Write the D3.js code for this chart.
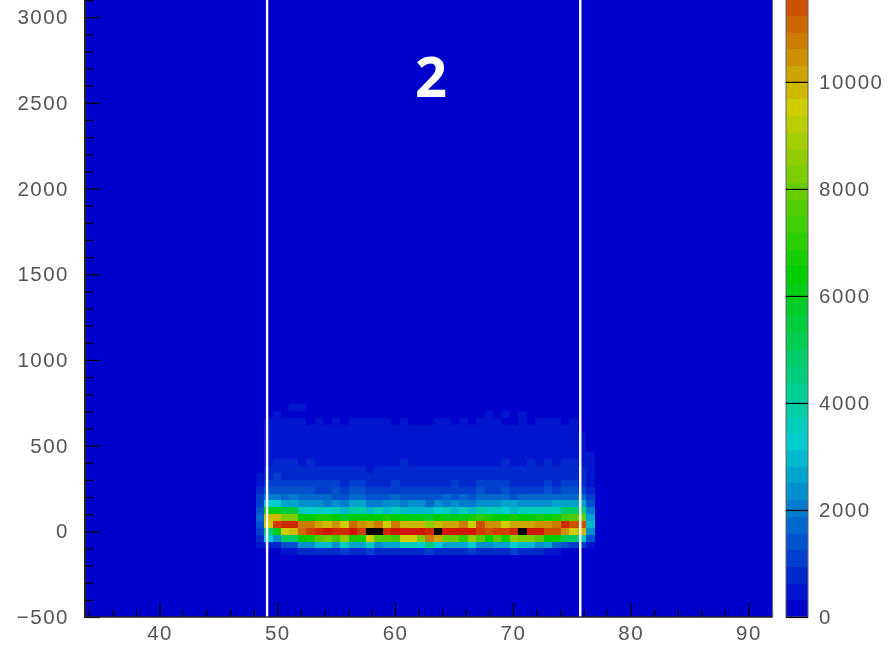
<!DOCTYPE html>
<html>
<head>
<meta charset="utf-8">
<script src="https://cdn.jsdelivr.net/npm/d3@7"></script>
<style>
  html, body { margin: 0; padding: 0; background: #fff; }
  svg { display: block; filter: blur(0.6px); }
  .tick text { font-family: "Liberation Sans", sans-serif; font-size: 20.5px; letter-spacing: 1.5px; fill: #555; }
  .tick line { stroke: #000; stroke-width: 1.2; }
</style>
</head>
<body>
<svg id="chart" width="891" height="651"></svg>
<script>
// Bin layout
const xBinStart = 48.15;
const xBinWidth = 0.72;
const yBinHalf = 20;
const yBinWidth = 40;
const zLevelWidth = 312;
const zOverflow = 12480;

// Row centres, top to bottom
const yCentres = [720, 680, 640, 600, 560, 520, 480, 440, 400, 360, 320, 280, 240, 200, 160, 120, 80, 40, 0, -40, -80, -120];

// Counts per x bin for every row (40 bins)
const row720 = [0,0,0,0,470,470,0,0,0,0,0,0,0,0,0,0,0,0,0,0,0,0,0,0,0,0,0,0,0,0,0,0,0,0,0,0,0,0,0,0];
const row680 = [0,0,470,0,0,0,0,0,0,0,0,0,0,0,0,0,0,0,0,0,0,0,0,0,0,0,0,470,0,470,0,470,0,0,0,0,0,0,0,0];
const row640 = [0,470,470,470,470,470,0,470,0,470,0,470,470,470,470,470,0,470,0,0,0,470,470,0,470,0,470,470,470,0,0,470,0,470,470,470,0,470,0,0];
const row600 = [0,470,470,470,470,470,470,470,470,470,470,470,470,470,470,470,470,470,470,470,470,470,470,470,470,470,470,470,470,470,470,470,470,470,470,470,470,470,0,0];
const row560 = [0,470,470,470,470,470,470,470,470,470,470,470,470,470,470,470,470,470,470,470,470,470,470,470,470,470,470,470,470,470,470,470,470,470,470,470,470,470,470,0];
const row520 = [0,470,470,470,470,470,470,470,470,470,470,470,470,470,470,470,470,470,470,470,470,470,470,470,470,470,470,470,470,470,470,470,470,470,470,470,470,470,470,0];
const row480 = [0,470,470,470,470,470,470,470,470,470,470,470,470,470,470,470,470,470,470,470,470,470,470,470,470,470,470,470,470,470,470,470,470,470,470,470,470,470,470,0];
const row440 = [0,470,470,470,470,470,470,470,470,470,470,470,470,470,470,470,470,470,470,470,470,470,470,470,470,470,470,470,470,470,470,470,470,470,470,470,470,470,470,470];
const row400 = [0,470,780,780,780,470,780,470,470,470,470,470,470,470,470,470,470,780,470,470,470,470,470,470,470,470,470,470,470,780,470,470,780,470,780,470,780,780,470,470];
const row360 = [0,780,780,780,780,780,780,780,780,780,780,780,780,470,780,780,780,780,780,780,780,780,780,780,780,780,780,780,780,780,780,780,780,780,780,780,780,780,780,470];
const row320 = [470,780,1090,780,780,780,780,780,780,780,780,780,780,780,780,780,780,780,780,780,780,780,780,780,780,780,780,780,780,780,780,780,780,780,780,780,780,780,780,470];
const row280 = [470,1090,1090,1090,1090,1090,1090,1090,1090,1090,780,1090,1090,780,780,780,1090,780,780,780,780,780,780,1090,780,780,1090,1090,1090,1090,780,780,780,780,1090,780,1090,1090,780,470];
const row240 = [780,1400,1400,1400,1400,1400,1400,1090,1090,1400,1090,1400,1400,1090,1090,1090,1090,1090,1090,1090,1090,1090,1090,1090,1090,1090,1400,1090,1090,1400,1090,1090,1090,1090,1400,1090,1400,1400,1090,780];
const row200 = [1090,2020,2020,1710,2020,1710,1710,1710,1710,1400,1400,1710,1710,1400,1400,1400,1710,1400,1400,1400,1400,1400,1710,1400,1710,1400,1710,1710,1710,1710,1400,1710,1710,1710,1710,1710,1710,1710,1710,1090];
const row160 = [1090,3270,3270,2640,2640,2330,2330,2330,2020,2330,2020,2640,2640,2020,2020,2330,2330,2020,2330,2330,1710,2330,2020,2330,2020,2020,2330,2330,2330,2640,2640,2330,2330,2330,2330,2640,2640,2640,2640,1400];
const row120 = [1400,6080,6080,5460,5460,3580,3270,3580,3270,3580,2950,3900,3900,2950,3580,2950,3580,2950,2950,2950,2950,3270,3580,2950,3580,2950,3900,3580,3580,3270,2950,3580,3580,3580,3580,3580,4830,4830,4520,2020];
const row80 = [1710,9830,9830,8270,8270,6400,6400,6710,6710,6400,5770,6400,6400,6400,6400,6710,6400,6400,6080,6080,5770,6400,6080,6080,6080,6710,7020,6710,6400,6400,6710,6400,6400,6710,6400,6710,7330,7640,7960,2640];
const row40 = [1400,9520,11700,12010,12010,10760,10760,10140,9830,10450,9520,11080,10450,10140,10760,9520,10760,9830,9830,9830,8580,9830,10140,10140,10760,9520,11390,10450,10450,9520,10140,10140,10140,10450,10450,10760,12010,11390,11390,2950];
const row0 = [1090,4520,6080,9520,9830,11080,11700,12010,12320,12010,12010,12320,11700,12700,12700,12010,12320,12320,12320,12320,12010,12700,12320,12320,12320,12320,11700,11390,11700,11700,12010,12700,12320,12320,11390,11390,10450,9520,9830,2330];
const rowM40 = [780,3270,2330,4830,4830,6400,6710,7640,7960,7330,8580,6710,6710,9520,7640,7640,7330,9520,9520,8270,10760,10140,7960,7960,7020,8580,7640,6400,7640,6710,8580,8270,8270,7640,6400,6400,5150,4830,3580,1400];
const rowM80 = [470,780,780,1400,1400,2330,2330,2950,2950,2330,3580,2640,2640,3580,2330,2640,2640,3580,3580,3270,4520,3270,2640,2640,2640,3270,2330,2330,2640,2640,3270,2950,2950,2330,2640,1710,1400,1090,1090,470];
const rowM120 = [0,0,0,470,470,780,780,780,780,780,1090,780,780,1090,780,780,780,780,780,780,1090,780,780,780,780,1090,780,780,780,780,1090,780,780,780,470,470,0,0,0,0];
const zRows = [row720, row680, row640, row600, row560, row520, row480, row440, row400, row360, row320, row280, row240, row200, row160, row120, row80, row40, row0, rowM40, rowM80, rowM120];

// Palette anchors, every ten levels
const paletteLevels = [0, 10, 20, 30, 40];
const paletteColors = ["#0000cd", "#00cdcd", "#00cd00", "#cdcd00", "#cd0000"];

const xTicksMajor = [40, 50, 60, 70, 80, 90];
const xTicksMinor = [34, 36, 38, 42, 44, 46, 48, 52, 54, 56, 58, 62, 64, 66, 68, 72, 74, 76, 78, 82, 84, 86, 88, 92];
const yTicksMajor = [-500, 0, 500, 1000, 1500, 2000, 2500, 3000];
const yTicksMinor = [-400, -300, -200, -100, 100, 200, 300, 400, 600, 700, 800, 900, 1100, 1200, 1300, 1400, 1600, 1700, 1800, 1900, 2100, 2200, 2300, 2400, 2600, 2700, 2800, 2900, 3100];
const zTicks = [0, 2000, 4000, 6000, 8000, 10000];
const cutLines = [49.13, 75.72];
const panelLabel = "2";

const svg = d3.select("#chart");

const x = d3.scaleLinear().domain([33.67, 92]).range([85, 772]);
const y = d3.scaleLinear().domain([-500, 3100]).range([617, 0]);
const z = d3.scaleLinear().domain([0, 11530]).range([617, 0]);

const ramp = d3.scaleLinear().domain(paletteLevels).range(paletteColors).interpolate(d3.interpolateRgb);
function zColor(v) {
    if (v >= zOverflow) return "#000";
    return ramp(Math.floor(v / zLevelWidth));
}

// Plot background
svg.append("rect")
    .attr("x", x.range()[0]).attr("y", 0)
    .attr("width", x.range()[1] - x.range()[0]).attr("height", y.range()[0])
    .attr("fill", zColor(0));

// Cells
const cells = [];
zRows.forEach((row, i) => {
    row.forEach((v, j) => {
        if (v > 0) cells.push({ xLow: xBinStart + j * xBinWidth, yMid: yCentres[i], v: v });
    });
});
svg.append("g").attr("shape-rendering", "crispEdges").selectAll("rect")
    .data(cells)
    .enter().append("rect")
    .attr("x", d => x(d.xLow))
    .attr("y", d => y(d.yMid + yBinHalf))
    .attr("width", d => x(d.xLow + xBinWidth) - x(d.xLow))
    .attr("height", d => y(d.yMid - yBinHalf) - y(d.yMid + yBinHalf))
    .attr("fill", d => zColor(d.v));

// White cut lines
svg.append("g").selectAll("line")
    .data(cutLines)
    .enter().append("line")
    .attr("x1", d => x(d)).attr("x2", d => x(d))
    .attr("y1", 0).attr("y2", y.range()[0])
    .attr("stroke", "#fff")
    .attr("stroke-width", 2.4);

// Axes, ticks point into the plot
const yMinor = svg.append("g").attr("transform", `translate(${x.range()[0]},0)`)
    .call(d3.axisRight(y).tickValues(yTicksMinor).tickSize(8).tickFormat(""));
yMinor.select(".domain").remove();
const yMajor = svg.append("g").attr("transform", `translate(${x.range()[0]},0)`)
    .call(d3.axisLeft(y).tickValues(yTicksMajor).tickSize(-15).tickPadding(16).tickFormat(d3.format("d")));
yMajor.select(".domain").remove();

const xMinor = svg.append("g").attr("transform", `translate(0,${y.range()[0]})`)
    .call(d3.axisTop(x).tickValues(xTicksMinor).tickSize(7).tickFormat(""));
xMinor.select(".domain").remove();
const xMajor = svg.append("g").attr("transform", `translate(0,${y.range()[0]})`)
    .call(d3.axisBottom(x).tickValues(xTicksMajor).tickSize(-14).tickPadding(8).tickFormat(d3.format("d")));
xMajor.select(".domain").remove();

// Frame: heavy left and bottom, grey right
svg.append("line").attr("x1", 85).attr("x2", 85).attr("y1", 0).attr("y2", 618).attr("stroke", "#222").attr("stroke-width", 2);
svg.append("line").attr("x1", 84).attr("x2", 772).attr("y1", 617).attr("y2", 617).attr("stroke", "#222").attr("stroke-width", 1.6);
svg.append("line").attr("x1", 772.5).attr("x2", 772.5).attr("y1", 0).attr("y2", 618).attr("stroke", "#666").attr("stroke-width", 1);

// Palette
const barLeft = 786;
const barRight = 808;
const barLevels = d3.range(0, 38);
svg.append("g").attr("shape-rendering", "crispEdges").selectAll("rect")
    .data(barLevels)
    .enter().append("rect")
    .attr("x", barLeft)
    .attr("y", d => z((d + 1) * zLevelWidth))
    .attr("width", barRight - barLeft)
    .attr("height", d => z(d * zLevelWidth) - z((d + 1) * zLevelWidth))
    .attr("fill", d => ramp(d));

svg.append("rect")
    .attr("x", barLeft).attr("y", -2)
    .attr("width", barRight - barLeft).attr("height", z(0) + 2)
    .attr("fill", "none").attr("stroke", "#666");

const zAxis = svg.append("g").attr("transform", `translate(${barRight},0)`)
    .call(d3.axisRight(z).tickValues(zTicks).tickSize(-(barRight - barLeft)).tickPadding(11).tickFormat(d3.format("d")));
zAxis.select(".domain").remove();

// Panel number
svg.append("text")
    .attr("x", x(63.05))
    .attr("y", 97)
    .attr("text-anchor", "middle")
    .attr("font-family", "'Open Sans', sans-serif")
    .attr("font-weight", 700)
    .attr("font-size", 56)
    .attr("fill", "#fff")
    .text(panelLabel);
</script>
</body>
</html>
